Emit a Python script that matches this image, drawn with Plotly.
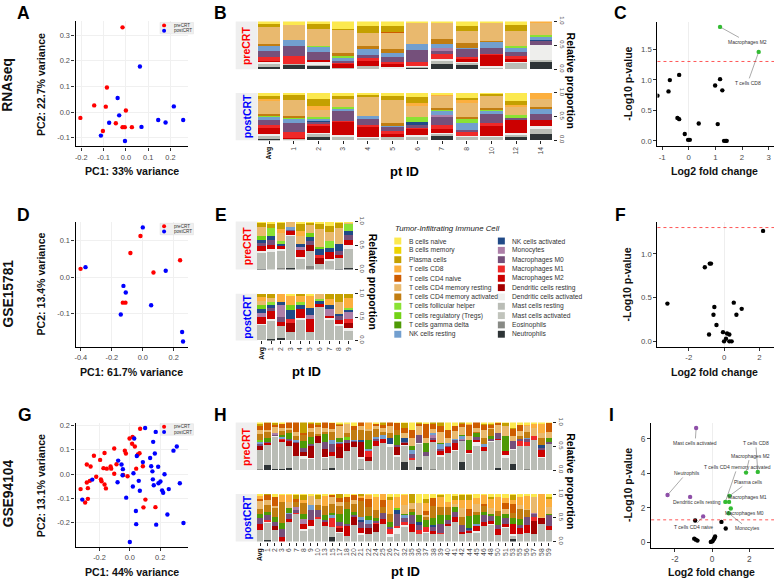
import plotly.graph_objects as go

W, H = 774, 584
BLACK = "#000000"; GREY = "#4D4D4D"; FONT = "Liberation Sans"

# ---------- cell types ----------
CODES = ["Bn","Bm","Pl","C8","C4n","C4r","C4a","Tfh","Tr","gd","NKr","NKa","Mo","M0","M1","M2","DCr","DCa","MCr","MCa","Eo","Ne"]
NAMES = ["B cells naive","B cells memory","Plasma cells","T cells CD8","T cells CD4 naive","T cells CD4 memory resting",
         "T cells CD4 memory activated","T cells follicular helper","T cells regulatory (Tregs)","T cells gamma delta",
         "NK cells resting","NK cells activated","Monocytes","Macrophages M0","Macrophages M1","Macrophages M2",
         "Dendritic cells resting","Dendritic cells activated","Mast cells resting","Mast cells activated","Eosinophils","Neutrophils"]
COLORS = ["#FCE94F","#EDD400","#C4A000","#FCAF3E","#CE5C00","#E9B96E","#C17D11","#8AE234","#73D216","#4E9A06",
          "#729FCF","#204A87","#AD7FA8","#75507B","#EF2929","#CC0000","#A40000","#EEEEEC","#BABDB6","#C1C4BC","#888A85","#2E3436"]

# ---------- panel A/D/G PCA ----------
A_PRE_X = [-0.015,-0.085,-0.142,-0.09,0.0,-0.204,-0.045,-0.015,-0.005,0.027,-0.103]
A_PRE_Y = [0.331,0.096,0.026,0.021,0.006,-0.023,-0.044,-0.059,-0.059,-0.059,-0.074]
A_POST_X = [0.063,-0.037,-0.03,0.215,0.145,0.178,0.257,-0.075,0.07,-0.112,-0.004]
A_POST_Y = [0.178,0.055,-0.013,0.022,-0.031,-0.041,-0.031,-0.042,-0.058,-0.092,-0.113]
D_PRE_X = [-0.015,-0.08,0.241,0.069,-0.402,-0.129,-0.112]
D_PRE_Y = [0.1135,0.0667,0.0468,0.0135,0.0234,-0.0694,-0.0694]
D_POST_X = [0,0.148,-0.37,-0.125,-0.11,0.054,-0.142,0.254,0.26]
D_POST_Y = [0.137,0.018,0.028,-0.0234,-0.0414,-0.0766,-0.1018,-0.15,-0.1757]
G_PRE_X = [0.068,-0.002,0.018,0.015,0.033,-0.103,-0.033,-0.026,0.064,0.053,-0.167,-0.237,-0.196,-0.284,-0.259,-0.088,-0.127,-0.123,-0.174,-0.152,-0.103,0.086,0.042,-0.044,-0.015,-0.222,-0.191,-0.187,-0.264,-0.284,-0.167,-0.158,-0.277,-0.325,-0.277,-0.295,0.103,0.090,0.169]
G_PRE_Y = [0.186,0.146,0.152,0.124,0.113,0.105,0.096,0.084,0.085,0.080,0.086,0.075,0.058,0.039,0.031,0.040,0.031,0.022,0.024,0.022,0.001,0.032,0.022,-0.004,-0.009,-0.011,-0.022,-0.030,-0.028,-0.035,-0.043,-0.059,-0.058,-0.062,-0.102,-0.117,-0.105,-0.137,-0.136]
G_POST_X = [0.101,0.171,0.029,0.154,0.310,0.288,0.165,0.046,0.134,-0.077,0.086,-0.055,0.141,0.187,-0.046,0.149,0.024,0.229,-0.048,-0.248,-0.081,0.059,0.152,0.202,0.189,0.330,0.158,0.020,0.066,0.257,0.213,0.220,-0.024,-0.314,0.040,0.248,0.042,0.174,0.354,0.0]
G_POST_Y = [0.189,0.173,0.146,0.132,0.113,0.096,0.084,0.074,0.066,0.055,0.049,0.039,0.032,0.030,0.020,0.011,0.003,-0.001,-0.005,-0.023,-0.034,-0.028,-0.022,-0.031,-0.038,-0.038,-0.046,-0.051,-0.069,-0.062,-0.067,-0.077,-0.097,-0.105,-0.152,-0.166,-0.206,-0.208,-0.201,-0.279]

# ---------- panel C/F/I volcano ----------
C_BLACK_X = [-0.36,-0.71,-0.76,-1.175,1.175,0.99,1.26,-0.425,-0.36,0.375,1.0875,-0.15,-0.025,0.04,1.325,1.39,1.425]
C_BLACK_Y = [1.08,0.995,0.81,0.74,1.01,0.907,0.827,0.376,0.355,0.285,0.274,0.113,0.016,0.016,0,0,0]
C_GREEN_X = [1.175,2.625]
C_GREEN_Y = [1.866,1.457]
F_BLACK_X = [2.21,-0.81,-0.74,-1.09,-3.21,0.55,-0.55,1.0,-0.60,0.70,-0.43,-0.06,-0.85,0.17,0.30,0.11,0,0.30,0.43]
F_BLACK_Y = [1.262,0.888,0.888,0.846,0.431,0.442,0.393,0.371,0.303,0.303,0.187,0.105,0.079,0.09,0.079,0.03,0,0,0]
I_PURPLE_X = [-0.857,-2.39,-1.18,-0.48]
I_PURPLE_Y = [6.63,2.74,2.63,1.50]
I_GREEN_X = [1.82,2.45,0.93,0.71,0.91,1.0,0.89]
I_GREEN_Y = [4.04,4.08,2.69,2.34,2.34,1.96,1.68]
I_BLACK_X = [-0.91,0.5,0.73,-0.96,-0.875,-0.786,-0.07,0.02,0.09,0.14,0.16]
I_BLACK_Y = [1.26,1.18,0.8,0.21,0.15,0.095,0.02,0.06,0.17,0.27,0.34]

# ---------- stacked bars (percent per patient) ----------
B_IDS = ["Avg","1","2","3","4","5","6","7","8","10","12","14"]
B_PRE = [
 dict(Bn=5.5,Pl=6,C4r=35,C4a=4,Tfh=1,NKr=9,M0=14,M1=7,M2=3,DCa=4,MCr=5,Ne=5.5),
 dict(Bn=7,C4r=33,NKr=11,M0=22,M1=16.5,MCr=1.5,Ne=9.5),
 dict(Bn=6,Pl=9,C8=1,C4r=35,Tfh=3,NKr=11,M0=15,M1=1,M2=4,DCa=5.5,MCr=3,Ne=7),
 dict(Bn=15,Pl=3.5,C4r=48,C4a=5,Tfh=5,NKr=5,M0=5.5,M1=2,M2=7,MCr=2,Ne=1.5),
 dict(Bn=10,Pl=13,C8=1.5,C4r=27,C4a=6,NKr=12,M0=6,M1=5.5,M2=10,MCr=7.5),
 dict(Bn=10,Pl=12,C4n=1,C4r=34,C4a=7,NKr=10,M0=10,M1=3,M2=7.5,DCa=4),
 dict(Bn=4,C4r=44,NKr=12,M0=25,M1=7.5,DCa=3,MCr=1.5,Ne=3),
 dict(Bn=3,C4r=35,C4a=9,Tfh=1.5,NKr=7,Mo=6,M0=7,M1=11,DCa=5,MCr=5,Ne=11.5),
 dict(Bn=10,Pl=9,C4r=27,C4a=9,NKr=3.5,M0=15,M1=5.5,M2=6,DCa=1.5,MCr=5.5,Ne=8),
 dict(Bn=3,C4r=37,C4a=3.5,NKr=11.5,M0=14,M1=2,M2=22.5,DCa=3,MCr=3.5),
 dict(Bn=7,Pl=12,C4r=33,Tfh=3.5,NKr=8,M0=9,M1=7,M2=5.5,DCa=1.5,MCr=13.5),
 dict(C8=3.5,C4r=24,Tfh=5.5,NKr=5,NKa=3.5,M0=7.5,DCa=32,MCr=5,Ne=14.5),
]
B_POST = [
 dict(Bn=7.5,Pl=6,C8=1.5,C4r=28.5,C4a=3,Tfh=4,NKr=6,M0=11,M1=5.5,M2=14,DCa=3,MCr=6,Ne=3.5),
 dict(Bn=3,Pl=13,C4r=33.5,C4a=1.5,Tfh=3,NKr=10,M0=19.5,M1=11,M2=2,MCr=3.5),
 dict(Bn=12,Pl=16.5,C8=7.5,C4r=14.5,Tfh=5,NKr=2,NKa=3.5,M0=3,M1=5,M2=15,DCa=1.5,MCr=7,Ne=7.5),
 dict(Bn=5.5,Pl=7.5,C4r=16.5,Tfh=4,NKr=4,M0=21,M1=1.5,M2=28.5,DCa=3,MCr=8),
 dict(Bn=3.5,Pl=5.5,C4r=40,NKr=6,M0=12,M1=6,M2=20,DCa=2,MCr=5),
 dict(Bn=7,Pl=8.5,C4r=48.5,C4a=4,NKr=5,M0=7.5,M1=7,M2=4,DCa=1.5,MCr=7),
 dict(Bn=9,Pl=12.5,C8=7,C4r=23,Tfh=11,NKa=4,M0=7,M1=2,M2=14,DCa=1.5,MCr=9),
 dict(Bn=3,C8=1.5,C4r=26.5,C4a=4,Tfh=2,NKr=9,Mo=4,M0=18,M1=7.5,M2=9,DCa=1.5,MCr=4,Ne=10),
 dict(Bn=10.5,Pl=5.5,C8=5,C4r=30.5,C4a=5,Tfh=7.5,NKr=14,M0=5,M1=9,DCa=1.5,MCr=7),
 dict(Bn=2,Pl=3,C4r=26.5,C4a=3,Tfh=3.5,NKr=7,M0=19,M1=7,M2=21.5,DCa=1.5,MCr=7),
 dict(Bn=17.5,Pl=7.5,C8=4,C4r=18,Tfh=4,NKr=1.5,M0=3.5,M2=29,DCa=1.5,MCr=7,Ne=6),
 dict(C8=12.5,C4r=16.5,C4a=5.5,NKr=9,M0=14.5,M2=11,DCa=6,MCr=10.5,Ne=14),
]
E_IDS = ["Avg","1","2","3","4","5","6","7","8","9"]
E_PRE = [
 dict(Bn=2,Pl=10,C4r=18,Tr=8,NKa=5.5,M0=7,M2=10,DCa=3.5,MCr=33,Ne=2),
 dict(Bn=3.5,Pl=9,Tfh=18,NKa=8,M0=9.5,M2=10,DCa=4,MCr=38),
 dict(Bn=2,Pl=14,C8=8,C4r=17,Tfh=4,NKa=3,M2=9.5,DCa=1.5,MCr=38,Eo=3),
 dict(C4r=11,NKr=4,M0=5.5,M2=7,DCa=1,MCr=69,Ne=2.5),
 dict(Bn=3.5,Pl=16,C8=11.5,C4r=16,NKa=7,Mo=5,M2=16,DCa=1.5,MCr=24),
 dict(Bn=2,Pl=3,C4r=19,Tr=9,NKa=8,M0=7,DCr=12.5,MCr=32,Eo=7.5),
 dict(Bn=4,Pl=12,C4r=36,Tr=5,NKa=12.5,M1=5.5,DCr=12.5,MCr=12.5),
 dict(Bn=10,Pl=11.5,C4r=19,Tfh=13.5,NKa=8,M2=15,DCa=2,MCr=20),
 dict(Bn=2,Pl=11.5,C4r=33,NKa=13.5,M0=9.5,M2=3.5,MCr=25,Ne=1.5),
 dict(Bn=2,C4r=1.5,Tfh=17,NKa=7,M0=10,M2=11.5,DCa=9,MCr=38,Ne=4),
]
E_POST = [
 dict(Pl=7,C8=10.5,C4r=9,Tr=8,NKa=8.5,Mo=9,M2=16,DCa=2,MCr=36),
 dict(Pl=8.5,C4r=9,Tfh=7,NKa=5,M0=7,M2=17.5,DCa=2,MCr=40,Ne=3.5),
 dict(C8=18,NKa=6,Mo=24.5,M0=10.5,M2=9,MCr=25,Ne=5.5),
 dict(Bn=5,C8=19.5,Tr=10.5,NKa=19.5,M1=8.5,DCr=19.5,MCr=17),
 dict(Pl=5.5,C8=12,Tfh=7,NKa=9,M2=19,DCa=1.5,MCr=45.5),
 dict(Bn=3.5,C8=26.5,NKa=15.5,Mo=9,M2=28,MCr=17),
 dict(C4r=10.5,Tfh=5.5,NKa=6,M2=4,MCr=73),
 dict(Pl=10.5,C8=12.5,NKa=10,Mo=14.5,M2=5,DCa=2,MCr=45),
 dict(Pl=17.5,C4r=24.5,NKa=5.5,M0=8.5,M2=9,DCa=2,MCr=32),
 dict(Pl=8.5,C8=21,Tfh=4,NKa=5,Mo=16,M1=8.5,DCr=11,DCa=3.5,MCr=22),
]
H_IDS = ["Avg","1","2","3","6","7","8","9","10","13","15","17","18","20","21","22","24","25","26","27","32","35",
         "36","37","38","39","40","41","42","44","45","46","48","50","51","53","55","56","57","58","59"]
H_PRE = [
 dict(Bn=3,Pl=4,C4n=10,C4r=8,C4a=15,Tr=5,NKr=4,M0=4,DCr=10,MCr=41,Eo=3),
 dict(Pl=1,C4n=14,C4r=5,C4a=14,gd=7,M0=3,M2=4,MCr=43,Ne=10),
 dict(Bn=2,Pl=3,C4n=5,C4r=11,Mo=5,M0=3,DCa=2,MCr=66,Ne=2),
 dict(Bn=3,C4n=8,C4r=6,C4a=9,gd=5,NKr=3,M1=3,M2=3,MCr=57,Ne=3),
 dict(C4n=12,C4r=4,C4a=7,gd=12,M0=5,M2=2,DCr=7,MCr=46,Ne=5),
 dict(C4n=19,C4r=10,C4a=7,NKr=5,M0=3,DCr=26,DCa=1,MCr=29),
 dict(Pl=23,C4n=3,C4a=14,gd=14,M0=8,DCr=9,DCa=5,MCr=24),
 dict(Bn=2,Pl=2,C4n=8,C4r=7,C4a=12,gd=15,M0=4,DCr=24,DCa=2,MCr=24),
 dict(Bn=1,Pl=5,C4n=3,C4r=16,C4a=3,DCr=15,MCr=57),
 dict(C4n=12,C4r=7,C4a=5,gd=18,M0=14,DCr=17,DCa=1,MCr=23,Eo=3),
 dict(Bn=2,C4n=12,C4r=7,C4a=16,NKr=8,M0=17,M2=9,MCr=24,Ne=5),
 dict(Bn=3,Pl=2,C4n=3,C4r=24,gd=9,NKr=2,M0=1,M2=8,DCr=21,DCa=1,MCr=25),
 dict(Bn=3,C4r=19,C4a=8,Tr=7,M0=6,DCr=17,MCr=39),
 dict(Bn=7,C4n=8,C4a=21,NKr=2,M0=4,DCr=10,MCr=48),
 dict(C4n=8,C4r=7,C4a=21,NKa=5,DCr=30,DCa=6,MCr=19,Eo=3),
 dict(C8=14,C4r=3,C4a=19,gd=19,NKr=5,M1=12,DCr=10,MCr=18),
 dict(Bn=3,C4n=5,C4r=5,C4a=18,NKr=4,M0=3,M2=11,MCr=51),
 dict(Pl=5,C4n=7,C4r=8,C4a=7,NKr=7,M2=10,MCr=56),
 dict(C4n=8,C4r=14,C4a=10,NKa=14,DCa=6,MCr=48),
 dict(Bn=1,C4n=15,C4a=10,gd=21,M0=5,DCr=17,DCa=3,MCr=28),
 dict(Bn=2,Pl=10,C4n=9,C4r=12,NKa=7,M0=2,DCr=5,DCa=2,MCr=33,Ne=17),
 dict(Bn=16,C4n=17,C4r=17,gd=7,NKr=10,M0=7,M1=4,DCa=1,MCr=21),
 dict(Bn=2,Pl=2,C4n=4,C4r=19,M0=16,DCa=2,MCr=48,Ne=7),
 dict(Bn=3,C4n=30,C4r=10,gd=18,M0=8,MCr=29),
 dict(Pl=3,C4n=11,C4r=9,NKr=3,Mo=6,M0=5,M2=5,MCr=57,Eo=2),
 dict(Pl=7,C4n=13,C4r=22,gd=2,NKr=12,M0=3,M2=9,DCa=3,MCr=28),
 dict(Bn=16,C4n=17,C4r=11,NKr=7,M0=2,M2=11,MCr=37),
 dict(Bn=8,C4n=10,C4r=16,NKr=2,M0=8,M2=14,DCa=1,MCr=41),
 dict(Pl=3,C4n=7,C4r=16,gd=3,NKr=6,M0=2,Mo=1,MCr=45,Ne=17),
 dict(Bn=4,C8=2,C4n=22,C4r=8,gd=21,M2=7,DCa=1,MCr=34),
 dict(C4n=12,C4r=9,C4a=2,gd=7,M0=6,M2=6,DCa=7,MCr=51),
 dict(Bn=4,Pl=2,C4n=9,C4r=16,C4a=12,NKr=7,M2=7,DCa=1,MCr=38),
 dict(Bn=3,Pl=3,C4n=5,C4r=3,C4a=15,gd=5,M0=5,DCa=2,MCr=58),
 dict(Bn=1,C8=1,C4n=3,C4r=17,M0=12,M2=3,MCr=58,Ne=5),
 dict(Bn=2,Pl=5,C4r=22,gd=31,M2=7,DCa=6,MCr=26),
 dict(Bn=12,Pl=2,C4n=14,C4r=10,M0=17,DCa=2,MCr=31,Ne=12),
 dict(Bn=5,C4n=12,C4r=12,C4a=6,M0=5,M1=10,MCr=50),
 dict(Bn=5,C8=3,C4r=12,C4a=12,NKr=3,M0=7,M1=8,MCr=47,Eo=3),
 dict(Bn=3,C8=9,C4r=17,M1=8,MCr=62),
 dict(Bn=3,C8=19,C4r=10,C4a=15,NKa=7,M0=3,M2=16,DCa=1,MCr=26),
 dict(Bn=2,C4n=17,C4r=14,gd=9,M0=4,MCr=54),
]
H_POST = [
 dict(Bn=3,Pl=1,C8=7,C4n=3,C4r=17,C4a=10,gd=9,M0=14,M2=12,MCr=24),
 dict(Pl=1,C4n=12,C4r=10,C4a=15,gd=7,M0=10,M1=2,DCa=3,MCr=36,Ne=4),
 dict(Bn=7,C4n=19,C4r=3,C4a=19,gd=10,M0=10,DCr=7,MCr=25),
 dict(Bn=2,C8=14,C4a=44,gd=14,M0=16,M2=10),
 dict(Bn=2,C8=14,C4r=14,gd=10,NKr=2,M0=10,M2=7,MCr=41),
 dict(Bn=1,Pl=10,C4n=5,C4a=12,Mo=6,M0=4,M1=2,MCr=60),
 dict(Bn=1,Pl=11,C8=7,C4a=23,gd=10,Mo=10,M2=11,DCa=3,MCr=24),
 dict(Bn=3,C4r=21,NKr=9,M0=21,M2=14,DCa=4,MCr=28),
 dict(Bn=2,Pl=8,C4r=14,C4a=10,M0=14,M1=4,MCr=48),
 dict(Bn=3,C8=22,C4a=19,gd=10,M0=4,M2=10,MCr=32),
 dict(Bn=2,C4n=5,C4r=14,C4a=18,gd=5,NKr=7,M1=19,MCr=20,Ne=10),
 dict(Pl=8,C4n=9,C4r=9,C4a=17,gd=15,M0=9,M1=4,DCr=8,DCa=3,MCr=18),
 dict(Bn=7,C4n=9,C4a=15,gd=33,M0=2,M2=23,MCr=11),
 dict(Bn=2,C4n=10,C4r=9,C4a=17,gd=7,M0=3,DCr=17,MCr=35),
 dict(Pl=5,C8=2,C4n=7,C4a=35,NKr=5,NKa=5,M0=12,M2=10,DCa=5,MCr=14),
 dict(Bn=1,C4n=17,C8=10,C4a=19,gd=7,NKr=10,M0=8,DCr=11,MCr=17),
 dict(Bn=6,C8=28,C4a=17,gd=6,M0=2,M1=3,DCr=18,MCr=20),
 dict(C4n=15,C8=12,C4a=12,M0=14,M2=11,MCr=36),
 dict(Bn=7,Pl=5,C8=30,C4a=16,gd=12,M0=3,M1=12,DCa=5,MCr=10),
 dict(Bn=7,C8=23,Tr=3,NKa=8,M0=26,M1=4,DCa=14,MCr=15),
 dict(Bn=1,C8=21,C4r=19,gd=3,NKr=6,M0=9,M1=7,DCa=3,MCr=31),
 dict(Pl=19,C4r=12,C4a=6,gd=7,M0=19,M2=16,MCr=21),
 dict(Bn=19,C4r=25,gd=14,NKa=7,M0=10,M1=8,DCa=1,MCr=16),
 dict(Bn=10,Pl=8,C8=18,C4n=8,C4r=3,C4a=7,gd=16,M1=10,DCa=1,MCr=19),
 dict(Bn=9,C4n=16,C4a=25,gd=15,NKa=4,M0=8,M2=8,MCr=15),
 dict(Bn=1,Pl=5,C8=21,C4a=17,gd=19,M0=19,M1=2,MCr=16),
 dict(Bn=17,C8=10,C4a=17,gd=10,M0=10,M2=3,MCr=33),
 dict(Bn=5,Pl=7,C8=9,C4r=7,gd=9,M0=12,M2=10,MCr=41),
 dict(Bn=2,Pl=10,C8=18,C4r=19,C4a=17,M0=14,M2=3,MCr=17),
 dict(Bn=2,Pl=10,C8=20,C4n=14,gd=25,NKa=4,M0=2,M2=5,MCr=18),
 dict(Bn=9,C8=12,C4r=17,C4a=6,gd=19,NKr=5,M2=10,DCa=2,MCr=20),
 dict(Bn=2,C4n=5,C8=19,C4a=12,gd=6,M0=14,M2=10,MCr=32),
 dict(Bn=7,Pl=3,C8=19,C4r=14,gd=3,M0=10,M2=7,DCa=1,MCr=36),
 dict(Bn=7,C8=28,C4a=12,gd=19,M0=8,M2=12,MCr=14),
 dict(Bn=9,C8=10,C4n=12,C4r=10,gd=10,M0=11,M2=7,DCa=1,MCr=30),
 dict(Bn=2,Pl=10,C8=8,C4n=19,C4a=11,gd=12,M2=21,DCa=5,MCr=7,Ne=5),
 dict(Bn=7,C8=17,C4r=8,C4a=21,gd=12,M0=7,M2=12,MCr=16),
 dict(Bn=5,C8=26,C4r=2,C4a=15,M0=17,M2=17,MCr=18),
 dict(Bn=7,C4r=32,Mo=3,M0=6,M1=9,DCr=26,MCr=17),
 dict(C8=48,C4r=2,DCr=14,MCr=36),
 dict(Bn=7,Pl=3,C8=17,C4r=14,gd=3,M0=24,M2=7,MCr=25),
]

# ---------- helpers ----------
fig = go.Figure()
shapes, annots = [], []
n_ax = [0]
def px(x): return x / W
def py(y): return 1 - y / H
def T(text, x, y, size, color=BLACK, bold=False, angle=0, xanchor="center", italic=False):
    if bold: text = f"<b>{text}</b>"
    if italic: text = f"<i>{text}</i>"
    annots.append(dict(text=text, x=px(x), y=py(y), xref="paper", yref="paper", showarrow=False, textangle=angle,
                       xanchor=xanchor, yanchor="middle", font=dict(family=FONT, size=size, color=color)))
def rect(x0, y0, x1, y1, fill, line=None):
    shapes.append(dict(type="rect", xref="paper", yref="paper", x0=px(x0), x1=px(x1), y0=py(y0), y1=py(y1),
                       fillcolor=fill, line=dict(width=0.5 if line else 0, color=line or fill), layer="below"))
def new_axes(dom_x, dom_y):
    n_ax[0] += 1
    k = n_ax[0]; s = "" if k == 1 else str(k)
    return k, s, dict(domain=[px(dom_x[0]), px(dom_x[1])], anchor=f"y{s}"), dict(domain=[py(dom_y[1]), py(dom_y[0])], anchor=f"x{s}")
def lab(v, fmt):
    return fmt.format(v)

def scatter_axes(dom_x, dom_y, xr, yr, xt, yt, xfmt, yfmt, tick_size, grid):
    k, s, xa, ya = new_axes(dom_x, dom_y)
    common = dict(showline=True, linecolor=BLACK, linewidth=1.3, ticks="outside", ticklen=3, tickwidth=0.8, tickcolor="#333",
                  tickfont=dict(family=FONT, size=tick_size, color=GREY), showgrid=grid, gridcolor="#F0F0F0", gridwidth=1, zeroline=False)
    xa.update(common, range=xr, tickmode="array", tickvals=xt, ticktext=[lab(v, xfmt) for v in xt])
    ya.update(common, range=yr, tickmode="array", tickvals=yt, ticktext=[lab(v, yfmt) for v in yt])
    return k, s, xa, ya

def pts(s, x, y, color, name, size=4.4):
    fig.add_trace(go.Scatter(x=x, y=y, mode="markers", name=name, xaxis=f"x{s}", yaxis=f"y{s}", showlegend=False,
                             marker=dict(color=color, size=size, line=dict(width=0))))

def pca(dom_y, xr, yr, xt, yt, pre, post, legy):
    k, s, xa, ya = scatter_axes((74.7, 187.7), dom_y, xr, yr, xt, yt, "{:.1f}", "{:.1f}", 7.4, True)
    fig.layout[f"xaxis{s}"] = xa; fig.layout[f"yaxis{s}"] = ya
    pts(s, pre[0], pre[1], "#FF0000", "preCRT")
    pts(s, post[0], post[1], "#0000FF", "postCRT")
    shapes.append(dict(type="rect", xref="paper", yref="paper", x0=px(159.3), x1=px(192.7), y0=py(legy), y1=py(legy+11.6),
                       fillcolor="#F0F0F0", line=dict(width=0.5, color="#DDDDDD"), layer="above"))
    for i, (c, t) in enumerate([("#FF0000", "preCRT"), ("#0000FF", "postCRT")]):
        yy = legy + 3.0 + i * 5.4
        shapes.append(dict(type="circle", xref="paper", yref="paper", x0=px(161.3), x1=px(165.3), y0=py(yy-2), y1=py(yy+2),
                           fillcolor=c, line=dict(width=0), layer="above"))
        T(t, 171, yy, 4.6, "#333", xanchor="left")

def volcano(dom_y, dom_x, xr, yr, xt, yt, yfmt, tick_size, thr=1.3):
    k, s, xa, ya = scatter_axes(dom_x, dom_y, xr, yr, xt, yt, "{:d}", yfmt, tick_size, False)
    xa.update(zeroline=True, zerolinecolor="#EEEEEE", zerolinewidth=1)
    fig.layout[f"xaxis{s}"] = xa; fig.layout[f"yaxis{s}"] = ya
    shapes.append(dict(type="line", xref=f"x{s} domain", yref=f"y{s}", x0=0, x1=1, y0=thr, y1=thr,
                       line=dict(color="rgba(255,30,30,0.75)", width=1, dash="dot"), layer="above"))
    return s

def gene(s, label, x, y, dx, dy):
    annots.append(dict(text=label, x=x, y=y, xref=f"x{s}", yref=f"y{s}", ax=dx, ay=dy, axref="pixel", ayref="pixel",
                       showarrow=True, arrowhead=0, arrowwidth=0.5, arrowcolor="#555555", standoff=2,
                       font=dict(family=FONT, size=5, color="#333333")))

def stacked(ids, rows, dom_x, dom_y, with_xlabels, width):
    k, s, xa, ya = new_axes(dom_x, dom_y)
    n = len(ids); pos = list(range(n))
    for code, name, col in reversed(list(zip(CODES, NAMES, COLORS))):
        vals = [r.get(code, 0) / sum(r.values()) for r in rows]
        if not any(vals): continue
        fig.add_trace(go.Bar(x=pos, y=vals, name=name, marker=dict(color=col, line=dict(width=0)), width=width,
                             xaxis=f"x{s}", yaxis=f"y{s}", showlegend=False))
    xa.update(range=[-0.5, n-0.5], showgrid=False, zeroline=False, showline=False)
    if with_xlabels:
        xa.update(tickmode="array", tickvals=pos, tickangle=-90, ticks="outside", ticklen=3, tickwidth=0.8, tickcolor="#222",
                  ticktext=[f"<b><span style='color:#111'>{t}</span></b>" if t == "Avg" else t for t in ids],
                  tickfont=dict(family=FONT, size=6.8, color=GREY))
    else:
        xa.update(showticklabels=False, ticks="")
    ya.update(range=[0, 1], side="right", showgrid=False, zeroline=False, showline=False, tickmode="array",
              tickvals=[0, .5, 1], ticktext=["0.0", "0.5", "1.0"], tickangle=90, ticks="outside", ticklen=3, tickwidth=0.8,
              tickcolor="#222", tickfont=dict(family=FONT, size=6, color=GREY))
    fig.layout[f"xaxis{s}"] = xa; fig.layout[f"yaxis{s}"] = ya

def bar_panel(ids, pre, post, right, y_pre, y_post, width, lab_x, lab_y, ptx, pty):
    rect(235, y_pre[0], 257, y_pre[1], "#EFEFEF")
    rect(235, y_post[0], 257, y_post[1], "#EFEFEF")
    stacked(ids, pre, (256, right), y_pre, False, width)
    stacked(ids, post, (256, right), y_post, True, width)
    T("preCRT", 246, sum(y_pre)/2, 10.5, "#FF0000", True, -90)
    T("postCRT", 246, sum(y_post)/2, 10.5, "#0000FF", True, -90)
    T("Relative proportion", lab_x, lab_y, 10.5, BLACK, True, 90)
    T("pt ID", ptx, pty, 13, BLACK, True)

# ---------- build ----------
pca((16.7, 143.7), [-0.2254, 0.2806], [-0.1346, 0.354], [-0.2,-0.1,0,0.1,0.2], [-0.1,0,0.1,0.2,0.3], (A_PRE_X, A_PRE_Y), (A_POST_X, A_POST_Y), 17.7)
pca((220.7, 347), [-0.434, 0.295], [-0.19, 0.151], [-0.4,-0.2,0,0.2], [-0.1,0,0.1], (D_PRE_X, D_PRE_Y), (D_POST_X, D_POST_Y), 221.7)
pca((424.3, 550.3), [-0.358, 0.387], [-0.299, 0.2105], [-0.2,0,0.2], [-0.3,-0.2,-0.1,0,0.1,0.2], (G_PRE_X, G_PRE_Y), (G_POST_X, G_POST_Y), 425.3)

bar_panel(B_IDS, B_PRE, B_POST, 553, (16.7, 65.3), (89.3, 137.3), 0.9, 571, 77, 404, 169)
bar_panel(E_IDS, E_PRE, E_POST, 353, (220, 268.7), (293.3, 340.7), 0.88, 372.5, 281, 306, 372)
bar_panel(H_IDS, H_PRE, H_POST, 552, (424, 472.3), (496.7, 545), 0.86, 571, 484, 405, 575)

s = volcano((17.3, 143.3), (657.3, 774), [-1.175, 3.2], [-0.086, 1.946], [-1,0,1,2,3], [0,0.5,1,1.5], "{:.1f}", 7.8)
pts(s, C_BLACK_X, C_BLACK_Y, "#000000", "NS")
pts(s, C_GREEN_X, C_GREEN_Y, "#33BB33", "up")
gene(s, "Macrophages M2", C_GREEN_X[0], C_GREEN_Y[0], 27, 15)
gene(s, "T cells CD8", C_GREEN_X[1], C_GREEN_Y[1], -11, 31)

s = volcano((220.7, 347.3), (657.3, 774), [-3.774, 2.83], [-0.064, 1.36], [-2,0,2], [0,0.5,1], "{:.1f}", 7.8)
pts(s, F_BLACK_X, F_BLACK_Y, "#000000", "NS")

s = volcano((424.3, 551), (651, 774), [-3.27, 3.32], [-0.305, 6.93], [-2,0,2], [0,2,4,6], "{:d}", 8.3)
pts(s, I_BLACK_X, I_BLACK_Y, "#000000", "NS")
pts(s, I_GREEN_X, I_GREEN_Y, "#33BB33", "up")
pts(s, I_PURPLE_X, I_PURPLE_Y, "#8E4FA8", "down")
gene(s, "Mast cells activated", I_PURPLE_X[0], I_PURPLE_Y[0], -1, 15)
gene(s, "Neutrophils", I_PURPLE_X[1], I_PURPLE_Y[1], 19, -22)
gene(s, "Dendritic cells resting", I_PURPLE_X[2], I_PURPLE_Y[2], 7, 5)
gene(s, "T cells CD4 naive", I_PURPLE_X[3], I_PURPLE_Y[3], -10, 11)
gene(s, "T cells CD8", I_GREEN_X[1], I_GREEN_Y[1], -2, -29)
gene(s, "Macrophages M2", I_GREEN_X[0], I_GREEN_Y[0], 4, -17)
gene(s, "T cells CD4 memory activated", I_GREEN_X[3], I_GREEN_Y[3], 12, -35)
gene(s, "Plasma cells", I_GREEN_X[2], I_GREEN_Y[2], 19, -14)
gene(s, "Macrophages M1", I_GREEN_X[4], I_GREEN_Y[4], 18, -5)
gene(s, "Macrophages M0", I_GREEN_X[5], I_GREEN_Y[5], 14, 5)
gene(s, "Monocytes", I_GREEN_X[6], I_GREEN_Y[6], 19, 15)

# axis titles
for txt, x, y in [("PC1: 33% variance",131,169),("PC1: 61.7% variance",130.7,372.7),("PC1: 44% variance",131,576)]:
    T(txt, x, y, 10.6, "#111", True)
for txt, x, y in [("PC2: 22.7% variance",40.7,80.7),("PC2: 13.4% variance",40,283),("PC2: 13.1% variance",40,487.7)]:
    T(txt, x, y, 10.6, "#111", True, -90)
for x, y in [(714.3,169),(714,372.7),(711.7,576)]:
    T("Log2 fold change", x, y, 10.5, "#111", True)
for x, y in [(627.7,80),(626.7,284),(627.7,487.7)]:
    T("-Log10 p-value", x, y, 10.5, "#111", True, -90)

# panel letters & rows
for t, x, y in [("A",23,8),("B",220,8),("C",620,8),("D",23,213),("E",220,213),("F",620,213),("G",24,416),("H",220,416),("I",611,416)]:
    T(t, x, y, 17.5, BLACK, True)
for t, y in [("RNAseq",81),("GSE15781",293),("GSE94104",496)]:
    T(t, 7, y, 13.8, "#111", True, -90)

# cell type legend
T("Tumor-Infiltrating Immune Cell", 393, 226.7, 7.8, "#222", italic=True, xanchor="left")
for i, (name, col) in enumerate(zip(NAMES, COLORS)):
    c, r = divmod(i, 11)
    sx = 397.3 + c * 103.7; sy = 239.7 + r * 9.47
    rect(sx-3.5, sy-3.5, sx+3.5, sy+3.5, col)
    T(name, sx + 9, sy, 6.7, "#333", xanchor="left")

fig.update_layout(width=W, height=H, margin=dict(l=0, r=0, t=0, b=0), autosize=False, barmode="stack",
                  paper_bgcolor="white", plot_bgcolor="white", showlegend=False, shapes=shapes, annotations=annots,
                  font=dict(family=FONT), hovermode=False)
fig.write_html("out.html", config=dict(displayModeBar=False),
               post_script="document.body.style.margin='0';document.documentElement.style.overflow='hidden';")
